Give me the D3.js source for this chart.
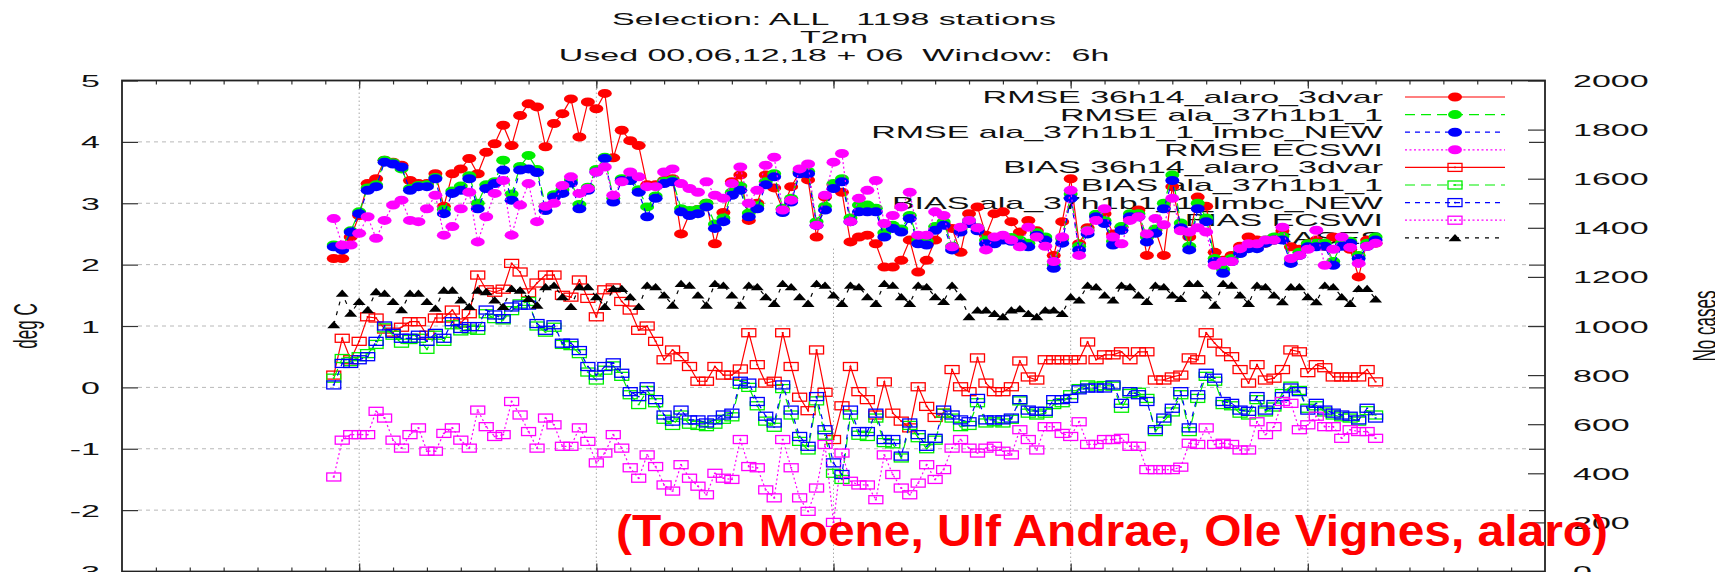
<!DOCTYPE html>
<html>
<head>
<meta charset="utf-8">
<script src="https://cdn.jsdelivr.net/npm/d3@7"></script>
<style>
  body { margin: 0; background: #fff; }
  text { font-family: "Liberation Sans", Arial, Helvetica, sans-serif; fill: #111; }
</style>
</head>
<body>
<svg id="chart" width="1715" height="572"></svg>
<script>
// 6-hourly valid times, in days from the start of the x axis
const startDay = 6.25, stepDay = 0.25;

const rmse36 = [2.10,2.10,2.45,2.80,3.32,3.40,3.70,3.67,3.62,3.37, 3.32,3.32,3.48,2.95,3.48,3.56,3.73,3.48,3.83,3.97,
  4.27,3.94,4.43,4.62,4.57,3.92,4.30,4.46,4.70,4.08, 4.65,4.54,4.79,3.74,4.19,4.02,3.94,3.30,3.30,3.37,
  3.40,2.50,2.83,2.90,3.00,2.34,2.85,3.35,3.46,2.72, 3.00,3.46,3.25,2.90,3.27,3.50,3.38,2.45,3.10,3.30,
  3.18,2.37,2.45,2.48,2.34,1.96,1.96,2.07,2.40,1.88, 2.07,2.40,2.67,2.59,2.20,2.83,2.94,2.48,2.83,2.86,
  2.70,2.53,2.72,2.55,2.40,2.15,2.70,3.40,2.34,2.60, 2.80,2.83,2.50,2.61,2.75,2.89,2.15,2.56,2.15,3.27,
  2.60,2.45,3.10,2.95,2.20,2.07,2.15,2.30,2.45,2.40, 2.35,2.40,2.55,2.29,2.25,2.34,2.40,2.30,2.45,2.40,
  2.25,1.80,2.40,2.35];
const rmseAla = [2.32,2.28,2.55,2.86,3.25,3.30,3.70,3.66,3.56,3.24, 3.29,3.30,3.42,2.90,3.20,3.28,3.45,3.00,3.30,3.35,
  3.70,3.15,3.60,3.78,3.55,2.95,3.14,3.22,3.38,2.98, 3.26,3.55,3.75,3.08,3.40,3.42,3.22,2.94,3.12,3.36,
  3.38,2.91,2.88,2.90,3.00,2.66,2.76,3.18,3.28,2.84, 2.96,3.35,3.48,2.92,3.08,3.52,3.52,2.70,2.95,3.32,
  3.40,2.76,2.97,2.97,2.92,2.52,2.64,2.58,2.80,2.40, 2.38,2.62,2.70,2.30,2.58,2.72,2.60,2.40,2.40,2.46,
  2.44,2.40,2.35,2.52,2.45,2.00,2.42,3.15,2.30,2.56, 2.82,2.72,2.38,2.62,2.83,2.83,2.45,2.58,3.00,3.46,
  2.68,2.30,3.00,2.76,2.10,1.92,2.10,2.22,2.30,2.32, 2.40,2.45,2.46,2.08,2.20,2.34,2.35,2.35,2.05,2.35,
  2.38,2.15,2.35,2.45];
const rmseLmbc = [2.29,2.24,2.53,2.83,3.21,3.27,3.67,3.64,3.59,3.21, 3.27,3.27,3.40,2.83,3.16,3.21,3.40,2.91,3.24,3.32,
  3.54,3.05,3.54,3.56,3.50,2.88,3.10,3.16,3.33,2.91, 3.21,3.51,3.73,3.02,3.37,3.37,3.18,2.78,3.08,3.32,
  3.35,2.86,2.80,2.83,2.94,2.59,2.70,3.13,3.21,2.78, 2.91,3.30,3.43,2.85,3.02,3.48,3.48,2.64,2.89,3.24,
  3.35,2.70,2.86,2.86,2.86,2.45,2.59,2.53,2.75,2.34, 2.32,2.56,2.64,2.24,2.53,2.67,2.55,2.34,2.34,2.40,
  2.38,2.34,2.29,2.48,2.40,1.94,2.35,3.08,2.24,2.50, 2.78,2.67,2.32,2.56,2.78,2.78,2.37,2.51,2.91,3.37,
  2.60,2.24,2.91,2.70,2.05,1.86,2.05,2.18,2.26,2.26, 2.35,2.40,2.40,2.02,2.15,2.29,2.29,2.30,1.99,2.30,
  2.35,2.10,2.30,2.40];
const rmseEcswi = [2.75,2.32,2.32,2.51,2.78,2.43,2.72,2.97,3.05,2.72, 2.70,2.91,3.13,2.48,2.62,2.91,3.18,2.37,2.78,3.16,
  3.37,2.48,2.97,3.32,2.70,2.95,3.00,3.29,3.43,3.16, 3.24,3.51,3.59,3.13,3.35,3.51,3.43,3.27,3.27,3.51,
  3.56,3.32,3.24,3.18,3.35,3.13,3.08,3.32,3.59,3.00, 3.21,3.62,3.75,2.89,3.05,3.56,3.64,2.64,3.13,3.67,
  3.81,2.70,3.08,3.21,3.37,2.67,2.80,2.94,3.18,2.48, 2.48,2.86,2.80,2.29,2.61,2.72,2.60,2.24,2.45,2.48,
  2.40,2.29,2.61,2.45,2.30,2.05,2.45,3.21,2.15,2.55, 2.72,2.91,2.45,2.34,2.72,2.78,2.50,2.75,2.65,3.08,
  2.55,2.53,2.60,2.53,1.99,2.05,2.05,2.26,2.34,2.34, 2.40,2.40,2.61,2.10,2.15,2.25,2.56,1.99,2.25,2.45,
  2.28,2.02,2.30,2.35];

const bias36 = [0.20,0.80,0.45,0.75,1.15,1.13,0.95,0.90,0.98,1.07, 1.07,0.85,1.13,1.13,1.26,1.05,1.20,1.83,1.59,1.55,
  1.60,2.02,1.88,1.54,1.70,1.83,1.83,1.50,1.47,1.75, 1.45,1.15,1.59,1.62,1.40,1.26,0.93,1.00,0.75,0.45,
  0.61,0.50,0.34,0.10,0.10,0.34,0.20,0.20,0.30,0.89, 0.37,0.07,0.10,0.89,0.34,-0.16,-0.38,0.61,-0.08,-0.85,
  -0.30,0.34,-0.07,-0.20,-0.45,0.09,-0.42,-0.55,-0.66,0.01, -0.31,-0.49,-0.42,0.29,0.01,-0.07,0.48,0.07,-0.07,-0.07,
  0.01,0.43,0.17,0.12,0.45,0.45,0.45,0.45,0.45,0.74, 0.45,0.53,0.53,0.58,0.45,0.58,0.58,0.12,0.12,0.17,
  0.20,0.48,0.45,0.89,0.72,0.58,0.50,0.29,0.07,0.37, 0.12,0.15,0.29,0.61,0.58,0.24,0.37,0.32,0.17,0.17,
  0.17,0.17,0.29,0.09];
const biasAla = [0.15,0.47,0.42,0.50,0.55,0.70,0.97,0.85,0.72,0.78, 0.80,0.62,0.85,0.75,1.02,0.92,0.95,0.93,1.20,1.12,
  1.10,1.25,1.36,1.40,1.00,0.90,0.98,0.70,0.68,0.55, 0.25,0.12,0.28,0.35,0.18,-0.12,-0.28,-0.05,-0.25,-0.52,
  -0.62,-0.45,-0.60,-0.62,-0.64,-0.60,-0.52,-0.48,0.05,0.00, -0.30,-0.55,-0.65,-0.02,-0.45,-0.88,-1.02,-0.22,-0.78,-1.40,
  -1.50,-0.45,-0.78,-0.80,-0.50,-0.90,-0.92,-1.15,-0.62,-0.82, -1.00,-0.86,-0.42,-0.50,-0.64,-0.62,-0.25,-0.58,-0.56,-0.58,
  -0.52,-0.22,-0.42,-0.45,-0.42,-0.28,-0.25,-0.12,-0.02,0.04, 0.02,0.03,0.02,-0.34,-0.10,-0.08,-0.18,-0.72,-0.55,-0.40,
  -0.12,-0.72,-0.18,0.18,0.10,-0.28,-0.30,-0.42,-0.45,-0.20, -0.40,-0.32,-0.10,0.02,-0.05,-0.34,-0.30,-0.40,-0.45,-0.48,
  -0.50,-0.55,-0.38,-0.45];
const biasLmbc = [0.04,0.39,0.39,0.45,0.50,0.75,1.00,0.88,0.80,0.80, 0.85,0.75,0.88,0.80,1.07,0.96,0.99,0.99,1.26,1.18,
  1.12,1.31,1.34,1.34,1.04,0.93,1.02,0.72,0.72,0.60, 0.34,0.20,0.34,0.40,0.23,-0.07,-0.15,0.01,-0.20,-0.45,
  -0.55,-0.37,-0.53,-0.53,-0.58,-0.53,-0.45,-0.42,0.10,0.07, -0.23,-0.47,-0.58,0.04,-0.37,-0.80,-0.96,-0.15,-0.69,-1.23,
  -1.42,-0.37,-0.72,-0.72,-0.42,-0.85,-0.85,-1.12,-0.58,-0.77, -0.96,-0.83,-0.37,-0.45,-0.53,-0.56,-0.18,-0.53,-0.53,-0.53,
  -0.50,-0.20,-0.37,-0.39,-0.39,-0.20,-0.20,-0.18,-0.04,-0.01, -0.01,-0.01,0.04,-0.26,-0.07,-0.12,-0.23,-0.69,-0.50,-0.34,
  -0.07,-0.66,-0.12,0.23,0.15,-0.23,-0.26,-0.37,-0.39,-0.15, -0.37,-0.28,-0.15,-0.01,-0.07,-0.37,-0.26,-0.37,-0.42,-0.45,
  -0.47,-0.53,-0.34,-0.50];
const biasEcswi = [-1.46,-0.86,-0.77,-0.77,-0.77,-0.39,-0.50,-0.86,-0.99,-0.77, -0.66,-1.04,-1.04,-0.75,-0.66,-0.86,-0.99,-0.37,-0.64,-0.80,
  -0.77,-0.23,-0.45,-0.72,-0.99,-0.50,-0.61,-0.96,-0.96,-0.66, -0.88,-1.23,-1.07,-0.77,-0.99,-1.31,-1.48,-1.10,-1.29,-1.59,
  -1.69,-1.26,-1.48,-1.61,-1.75,-1.40,-1.48,-1.50,-0.85,-1.29, -1.31,-1.67,-1.80,-0.85,-1.31,-1.80,-2.02,-1.64,-0.93,-2.20,
  -1.07,-1.53,-1.59,-1.59,-1.83,-1.10,-1.42,-1.64,-1.75,-1.56, -1.26,-1.50,-1.34,-0.99,-0.85,-0.99,-1.07,-0.99,-0.96,-1.04,
  -1.10,-0.69,-0.85,-1.02,-0.64,-0.64,-0.75,-0.80,-0.56,-0.93, -0.93,-0.85,-0.85,-0.83,-0.96,-0.96,-1.34,-1.34,-1.34,-1.34,
  -1.30,-0.91,-0.93,-0.66,-0.93,-0.91,-0.93,-1.02,-1.02,-0.56, -0.77,-0.64,-0.23,-0.26,-0.69,-0.61,-0.47,-0.64,-0.64,-0.83,
  -0.69,-0.72,-0.72,-0.83];

const cases = [1005,1133,1052,1100,1066,1140,1133,1100,1066,1133, 1133,1100,1072,1146,1146,1106,1079,1146,1140,1106,
  1079,1153,1146,1112,1085,1160,1166,1119,1079,1160, 1160,1119,1079,1153,1153,1119,1079,1166,1160,1126,
  1085,1173,1166,1126,1085,1173,1166,1126,1085,1166, 1160,1119,1092,1173,1160,1119,1092,1173,1166,1126,
  1092,1166,1160,1119,1092,1173,1166,1119,1092,1166, 1160,1119,1100,1166,1119,1038,1065,1065,1051,1038,
  1065,1070,1051,1038,1065,1065,1051,1119,1106,1166, 1160,1126,1106,1166,1160,1126,1100,1166,1160,1126,
  1112,1173,1173,1126,1085,1173,1166,1126,1092,1166, 1160,1126,1099,1160,1160,1119,1099,1166,1160,1119,
  1092,1153,1153,1110];

const titleLines = ["Selection: ALL   1198 stations", "T2m", "Used 00,06,12,18 + 06  Window:  6h"];
const yTicks = [-3,-2,-1,0,1,2,3,4,5];
const y2Ticks = [0,200,400,600,800,1000,1200,1400,1600,1800,2000];
const weekTicks = [7,14,21,28,35];
const dayTicks = d3.range(1, 42);

const series = [
  {name: "RMSE 36h14_alaro_3dvar",      values: rmse36,    color: "#ff0000", dash: null,   mark: "circle"},
  {name: "RMSE ala_37h1b1_1",           values: rmseAla,   color: "#00ee00", dash: "10,6", mark: "circle"},
  {name: "RMSE ala_37h1b1_1_lmbc_NEW",  values: rmseLmbc,  color: "#0000ff", dash: "5,5",  mark: "circle"},
  {name: "RMSE ECSWI",                  values: rmseEcswi, color: "#ff00ff", dash: "2,2.5",mark: "circle"},
  {name: "BIAS 36h14_alaro_3dvar",      values: bias36,    color: "#ff0000", dash: null,   mark: "square"},
  {name: "BIAS ala_37h1b1_1",           values: biasAla,   color: "#00ee00", dash: "10,6", mark: "square"},
  {name: "BIAS ala_37h1b1_1_lmbc_NEW",  values: biasLmbc,  color: "#0000ff", dash: "5,5",  mark: "square"},
  {name: "BIAS ECSWI",                  values: biasEcswi, color: "#ff00ff", dash: "2,2.5",mark: "square"},
  {name: "CASES",                       values: cases,     color: "#000000", dash: "4,6",  mark: "triangle", right: true}
];

const plot = {left: 122, right: 1545, top: 80.5, bottom: 571.5};
const x = d3.scaleLinear().domain([0, 42]).range([plot.left, plot.right]);
const y = d3.scaleLinear().domain([-3, 5]).range([plot.bottom, plot.top]);
const y2 = d3.scaleLinear().domain([0, 2000]).range([plot.bottom, plot.top]);

const svg = d3.select("#chart");

// the original picture is stretched 2x horizontally, text too
function wideText(g, str, tx, ty, anchor, extra) {
  return g.append("text")
    .attr("transform", `translate(${tx},${ty}) scale(2,1)${extra || ""}`)
    .attr("text-anchor", anchor)
    .attr("font-size", 17)
    .style("white-space", "pre")
    .text(str);
}

// grid
const grid = svg.append("g");
grid.selectAll("line.h").data(yTicks.slice(1, -1)).join("line")
  .attr("x1", plot.left + 16).attr("x2", plot.right - 16)
  .attr("y1", d => y(d)).attr("y2", d => y(d))
  .attr("stroke", "#b8b8b8").attr("stroke-width", 1).attr("stroke-dasharray", "4,4");
grid.selectAll("line.v").data(weekTicks).join("line")
  .attr("x1", d => x(d)).attr("x2", d => x(d))
  .attr("y1", plot.top).attr("y2", plot.bottom)
  .attr("stroke", "#a8a8a8").attr("stroke-width", 1).attr("stroke-dasharray", "1.5,2.5");

// key area hides the grid
svg.append("rect").attr("x", 773).attr("y", 86).attr("width", plot.right - 773).attr("height", 160).attr("fill", "#fff");

// axes
function tidy(g) {
  g.select(".domain").remove();
  g.selectAll(".tick line").attr("stroke", "#333").attr("stroke-width", 1.2);
}
const gy = svg.append("g").attr("transform", `translate(${plot.left},0)`)
  .call(d3.axisLeft(y).tickValues(yTicks).tickSizeInner(-16).tickSizeOuter(0).tickFormat(d => String(d)));
tidy(gy);
gy.selectAll(".tick text").attr("x", null).attr("dy", null)
  .attr("transform", "translate(-22,6) scale(2,1)").attr("font-size", 17).attr("font-family", null);

const gyr = svg.append("g").attr("transform", `translate(${plot.right},0)`)
  .call(d3.axisRight(y).tickValues(yTicks.slice(1, -1)).tickSizeInner(-16).tickSizeOuter(0).tickFormat(""));
tidy(gyr);

const gy2 = svg.append("g").attr("transform", `translate(${plot.right},0)`)
  .call(d3.axisRight(y2).tickValues(y2Ticks).tickSizeInner(-17).tickSizeOuter(0).tickFormat(d => String(d)));
tidy(gy2);
gy2.selectAll(".tick text").attr("x", null).attr("dy", null)
  .attr("transform", "translate(28,6) scale(2,1)").attr("font-size", 17).attr("font-family", null);

[["top", plot.top], ["bottom", plot.bottom]].forEach(([side, pos]) => {
  const make = side === "top" ? d3.axisTop : d3.axisBottom;
  const gMinor = svg.append("g").attr("transform", `translate(0,${pos})`)
    .call(make(x).tickValues(dayTicks).tickSizeInner(-4).tickSizeOuter(0).tickFormat(""));
  tidy(gMinor);
  const gMajor = svg.append("g").attr("transform", `translate(0,${pos})`)
    .call(make(x).tickValues(weekTicks).tickSizeInner(-8).tickSizeOuter(0).tickFormat(""));
  tidy(gMajor);
});

// frame
svg.append("rect").attr("x", plot.left).attr("y", plot.top)
  .attr("width", plot.right - plot.left).attr("height", plot.bottom - plot.top)
  .attr("fill", "none").attr("stroke", "#222").attr("stroke-width", 1.8);

// titles and axis labels
const titles = svg.append("g");
titleLines.forEach((t, i) => wideText(titles, t, 834, 25 + i * 17.8, "middle"));
wideText(svg, "deg C", 37, 326, "middle", " rotate(-90)");
wideText(svg, "No cases", 1716, 326, "middle", " rotate(-90)");

// markers
function addMarks(g, s, pts) {
  if (s.mark === "circle") {
    g.selectAll("ellipse").data(pts).join("ellipse")
      .attr("cx", d => d[0]).attr("cy", d => d[1]).attr("rx", 7).attr("ry", 4.5)
      .attr("fill", s.color);
  } else if (s.mark === "square") {
    g.selectAll("rect.box").data(pts).join("rect").attr("class", "box")
      .attr("x", d => d[0] - 7).attr("y", d => d[1] - 4).attr("width", 14).attr("height", 8)
      .attr("fill", "none").attr("stroke", s.color).attr("stroke-width", 1.3);
    g.selectAll("rect.dot").data(pts).join("rect").attr("class", "dot")
      .attr("x", d => d[0] - 1).attr("y", d => d[1] - 0.75).attr("width", 2).attr("height", 1.5)
      .attr("fill", s.color);
  } else {
    g.selectAll("path.tri").data(pts).join("path").attr("class", "tri")
      .attr("d", d => `M${d[0]},${d[1] - 3.8}L${d[0] + 6.5},${d[1] + 3.5}L${d[0] - 6.5},${d[1] + 3.5}Z`)
      .attr("fill", s.color);
  }
}

// legend
const legend = svg.append("g");
series.forEach((s, i) => {
  const ry = 97 + i * 17.6;
  wideText(legend, s.name, 1383, ry + 6, "end");
  legend.append("line").attr("x1", 1405).attr("x2", 1505).attr("y1", ry).attr("y2", ry)
    .attr("stroke", s.color).attr("stroke-width", 1.2).attr("stroke-dasharray", s.dash);
  addMarks(legend.append("g"), s, [[1455, ry]]);
});

// data
series.forEach(s => {
  const ys = s.right ? y2 : y;
  const pts = s.values.map((v, i) => [x(startDay + i * stepDay), ys(v)]);
  const g = svg.append("g");
  g.append("path").attr("d", d3.line()(pts))
    .attr("fill", "none").attr("stroke", s.color).attr("stroke-width", 1.2)
    .attr("stroke-dasharray", s.dash);
  addMarks(g, s, pts);
});

// credit stamped on the picture
svg.append("text").attr("x", 616).attr("y", 546)
  .attr("font-size", 45).attr("font-weight", "bold").style("fill", "#ff0000")
  .attr("textLength", 992).attr("lengthAdjust", "spacingAndGlyphs")
  .text("(Toon Moene, Ulf Andrae, Ole Vignes, alaro)");
</script>
</body>
</html>
